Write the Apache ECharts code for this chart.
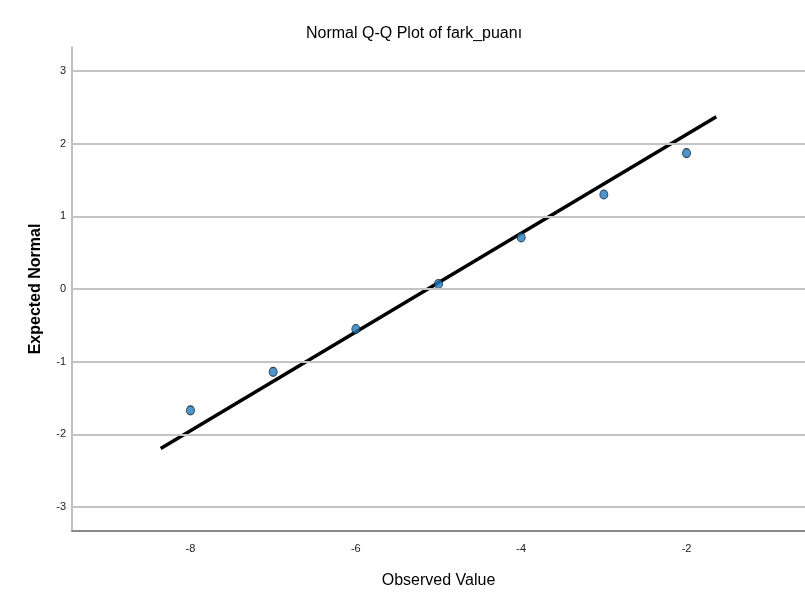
<!DOCTYPE html>
<html><head><meta charset="utf-8">
<script src="https://cdn.jsdelivr.net/npm/echarts@6/dist/echarts.min.js"></script>
<style>html,body{margin:0;padding:0;background:#fff}#c{width:805px;height:606px}</style>
</head><body><div id="c"></div>
<script>
const observed = [-8, -7, -6, -5, -4, -3, -2];
const expected = [-1.67, -1.14, -0.55, 0.07, 0.71, 1.30, 1.87];
const lineX = [-8.36, -1.64];
const lineY = [-2.195, 2.37];
const yTicks = [-3, -2, -1, 0, 1, 2, 3];
const xTicks = [-8, -6, -4, -2];
const FONT = '"Liberation Sans Narrow","Liberation Sans",Arial,sans-serif';

const chart = echarts.init(document.getElementById('c'), null, {renderer: 'canvas'});
chart.setOption({
  animation: false,
  backgroundColor: '#fff',
  title: {
    text: 'Normal Q-Q Plot of fark_puanı',
    left: 301, top: 21,
    textStyle: {fontFamily: FONT, fontSize: 16, fontWeight: 'normal', color: '#000'}
  },
  grid: {left: 72, right: -3, top: 47, bottom: 75, containLabel: false},
  xAxis: {
    type: 'value', min: -9.433, max: -0.567,
    name: 'Observed Value', nameLocation: 'middle', nameGap: 42,
    nameTextStyle: {fontFamily: FONT, fontSize: 16, color: '#000'},
    axisLine: {show: true, onZero: false, lineStyle: {color: '#888', width: 2}},
    axisTick: {show: false},
    splitLine: {show: false},
    axisLabel: {
      fontFamily: FONT, fontSize: 11, color: '#222', margin: 12,
      customValues: xTicks,
      formatter: v => String(v)
    }
  },
  yAxis: {
    type: 'value', min: -3.33, max: 3.33,
    name: 'Expected Normal', nameLocation: 'middle', nameGap: 28,
    nameTextStyle: {fontFamily: FONT, fontSize: 16, fontWeight: 'bold', color: '#000'},
    axisLine: {show: true, onZero: false, lineStyle: {color: '#aaa', width: 1.5}},
    axisTick: {show: false},
    splitLine: {show: false},
    axisLabel: {
      fontFamily: FONT, fontSize: 11, color: '#222', margin: 6,
      customValues: yTicks,
      formatter: v => String(v)
    }
  },
  series: [
    {
      type: 'line',
      data: yTicks.map(v => null),
      markLine: {
        silent: true, symbol: 'none', label: {show: false},
        lineStyle: {color: '#c4c4c4', width: 2, type: 'solid'},
        data: yTicks.map(v => ({yAxis: v}))
      }
    },
    {
      type: 'line',
      data: lineX.map((x, i) => [x, lineY[i]]),
      symbol: 'none',
      lineStyle: {color: '#000', width: 3.5},
      z: 3
    },
    {
      type: 'scatter',
      data: observed.map((x, i) => [x, expected[i]]),
      symbol: 'circle', symbolSize: [8, 9],
      itemStyle: {color: '#1f7cc0', borderColor: '#14202c', borderWidth: 1},
      z: 4
    }
  ]
});
</script></body></html>
